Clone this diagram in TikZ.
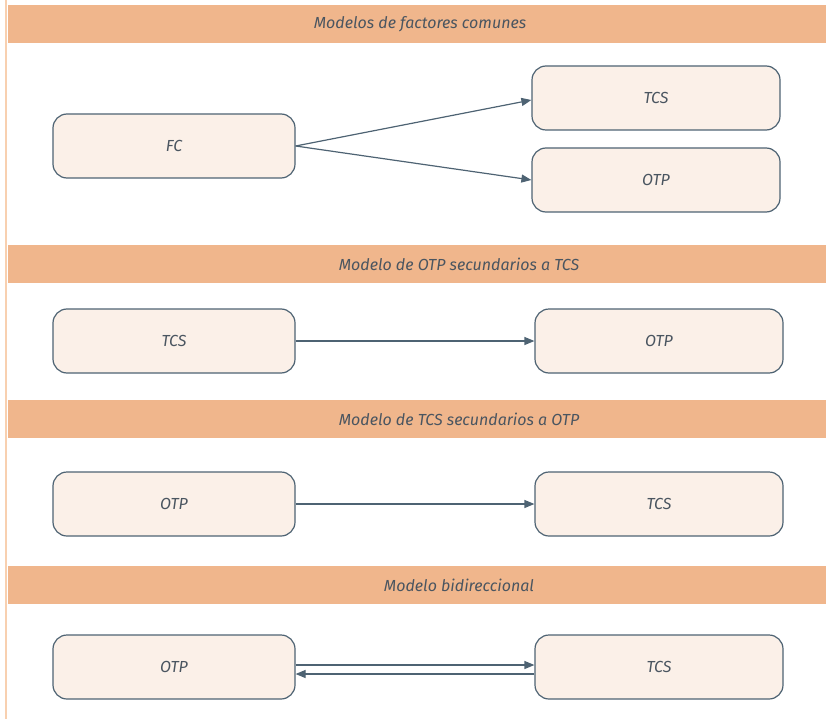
\documentclass[tikz,border=0pt]{standalone}
\usepackage{fontspec}
\setmainfont{Fira Sans}
\usepackage{xcolor}
\usetikzlibrary{arrows.meta, positioning}

\definecolor{peach}{HTML}{F0B68C}
\definecolor{peachline}{HTML}{F8D0B0}
\definecolor{boxfill}{HTML}{FBF0E8}
\definecolor{slate}{HTML}{4E6373}
\definecolor{txt}{HTML}{4A5560}

\tikzset{
  band/.style={fill=peach, minimum width=818pt, minimum height=38pt, inner sep=0pt},
  title/.style={inner sep=0pt, text=txt, font=\fontsize{16}{18}\selectfont\itshape},
  model/.style={draw=slate, line width=1.2pt, fill=boxfill, rounded corners=14pt,
    minimum width=242pt, minimum height=64pt, text=txt,
    font=\fontsize{16}{18}\selectfont\itshape},
  wide/.style={model, minimum width=248pt},
  link/.style={draw=slate, line width=1.2pt, -{Triangle[length=10pt,width=8pt]}}
}

\begin{document}
\begin{tikzpicture}[x=1pt,y=-1pt]
\useasboundingbox (0,0) rectangle (826,719);
\draw[peachline, line width=2pt] (6,0) -- (6,719);

% common factors
\node[band] (h1) at (417,24) {};
\node[title] (t1) at (420,24) {Modelos de factores comunes};
\node[model] (fc) at (174,146) {FC};
\node[wide] (tcsA) at (656,98) {TCS};
\node[wide] (otpA) at (656,180) {OTP};
\draw[link] (fc.east) -- ([yshift=-2pt]tcsA.west);
\draw[link] (fc.east) -- (otpA.west);

% OTP secondary
\node[band] (h2) at (417,264) {};
\node[title] (t2) at (459,264) {Modelo de OTP secundarios a TCS};
\node[model] (tcsB) at (174,341) {TCS};
\node[wide] (otpB) at (659,341) {OTP};
\draw[link] (tcsB) -- (otpB);

% TCS secondary
\node[band] (h3) at (417,419) {};
\node[title] (t3) at (459,419) {Modelo de TCS secundarios a OTP};
\node[model] (otpC) at (174,504) {OTP};
\node[wide] (tcsC) at (659,504) {TCS};
\draw[link] (otpC) -- (tcsC);

% bidirectional
\node[band] (h4) at (417,585) {};
\node[title] (t4) at (459,585) {Modelo bidireccional};
\node[model] (otpD) at (174,667) {OTP};
\node[wide] (tcsD) at (659,667) {TCS};
\draw[link] ([yshift=2pt]otpD.east) -- ([yshift=2pt]tcsD.west);
\draw[link] ([yshift=-7pt]tcsD.west) -- ([yshift=-7pt]otpD.east);
\end{tikzpicture}
\end{document}
